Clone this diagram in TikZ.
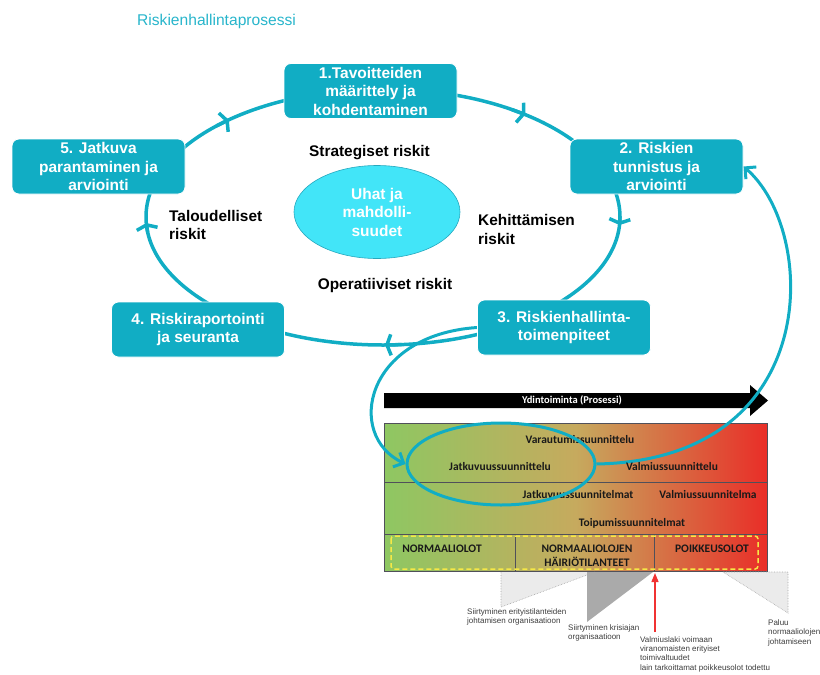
\documentclass[tikz,border=0pt]{standalone}
\usepackage{fontspec}
\setmainfont{Liberation Sans}
\newfontfamily\carl{Carlito}
\usetikzlibrary{shapes.geometric,arrows.meta,calc}
\definecolor{teal1}{RGB}{17,173,196}
\definecolor{titlec}{RGB}{40,181,203}
\definecolor{cfill}{RGB}{66,229,248}
\definecolor{cdraw}{RGB}{38,168,190}
\definecolor{gL}{RGB}{142,199,98}
\definecolor{gM}{RGB}{198,170,94}
\definecolor{gR}{RGB}{233,46,40}
\definecolor{tline}{RGB}{80,80,90}
\definecolor{lgray}{RGB}{235,235,235}
\definecolor{dgray}{RGB}{170,170,170}
\definecolor{annotc}{RGB}{60,60,60}
\definecolor{yell}{RGB}{246,232,70}
\definecolor{redA}{RGB}{240,50,50}
\pgfdeclarelayer{bg}
\pgfdeclarelayer{mid}
\pgfsetlayers{bg,mid,main}
\begin{document}
\begin{tikzpicture}[x=1pt,y=-1pt,
  stepbox/.style={rectangle, rounded corners=7pt, fill=teal1, draw=white, line width=0.8pt,
    minimum width=173pt, minimum height=55pt, inner sep=0pt, align=center, text=white,
    font=\fontsize{15.5}{18.5}\selectfont\bfseries},
  risk/.style={inner sep=0pt, align=left, font=\fontsize{15.4}{18.5}\selectfont\bfseries},
  ring/.style={draw=teal1, line width=3.5pt},
  tick/.style={draw=teal1, line width=3.5pt, -{Straight Barb[length=4pt,width=21pt]}},
  loopc/.style={draw=teal1, line width=3pt, -{Straight Barb[length=8pt,width=16pt]}},
  tbltxt/.style={inner sep=0pt, align=center, font=\carl\bfseries\fontsize{11.5}{13.5}\selectfont, text=black!90},
  annot/.style={inner sep=0pt, anchor=north west, align=left, text=annotc, font=\fontsize{8}{9.6}\selectfont},
]
\useasboundingbox (0,0) rectangle (820,675);

% title
\node[anchor=base west, inner sep=0pt, text=titlec, font=\fontsize{15.6}{18}\selectfont] (title) at (137,25) {Riskienhallintaprosessi};

% table (background)
\begin{pgfonlayer}{bg}
\shade[left color=gL, right color=gR, middle color=gM] (384,423) rectangle (767,571);
\draw[tline, line width=0.8pt] (384,423) rectangle (767,571);
\draw[tline, line width=0.8pt] (384,482) -- (767,482);
\draw[tline, line width=0.8pt] (384,534) -- (767,534);
\draw[tline, line width=0.8pt] (515,534) -- (515,571);
\draw[tline, line width=0.8pt] (654,534) -- (654,571);
\draw[yell, line width=1.5pt, dash pattern=on 5pt off 3pt, rounded corners=3pt] (391,536) rectangle (758,569);
\fill[black] (384,393) -- (750,393) -- (750,385) -- (768,400.5) -- (750,416) -- (750,408) -- (384,408) -- cycle;
\end{pgfonlayer}
\node[inner sep=0pt, text=white, font=\carl\bfseries\fontsize{10.5}{12}\selectfont] (proc) at (572,400.5) {Ydintoiminta (Prosessi)};

\node[tbltxt] (t1) at (580,440) {Varautumissuunnittelu};
\node[tbltxt] (t2) at (500,467) {Jatkuvuussuunnittelu};
\node[tbltxt] (t3) at (672,467) {Valmiussuunnittelu};
\node[tbltxt] (t4) at (578,495) {Jatkuvuussuunnitelmat};
\node[tbltxt] (t5) at (708,495) {Valmiussuunnitelma};
\node[tbltxt] (t6) at (632,523) {Toipumissuunnitelmat};
\node[tbltxt] (t7) at (442,549) {NORMAALIOLOT};
\node[tbltxt] (t8) at (587,556) {NORMAALIOLOJEN\\HÄIRIÖTILANTEET};
\node[tbltxt] (t9) at (712,549) {POIKKEUSOLOT};

% table ellipse
\node[ellipse, draw=teal1, line width=3pt, minimum width=188pt, minimum height=82pt, inner sep=0pt] (TE) at (501,464) {};

% boxes
\node[stepbox] (B1) at (370.5,91) {1.Tavoitteiden\\määrittely ja\\kohdentaminen};
\node[stepbox] (B2) at (656.5,166.5) {2. Riskien\\tunnistus ja\\arviointi};
\node[stepbox] (B3) at (564,327.5) {3. Riskienhallinta-\\toimenpiteet};
\node[stepbox] (B4) at (198,329.5) {4. Riskiraportointi\\ja seuranta};
\node[stepbox] (B5) at (98.5,166.5) {5. Jatkuva\\parantaminen ja\\arviointi};

% center
\node[ellipse, fill=cfill, draw=cdraw, line width=0.6pt, minimum width=166pt, minimum height=93pt,
  inner sep=0pt, align=center, text=white, font=\fontsize{15.5}{18.5}\selectfont\bfseries] (threat) at (377,212) {Uhat ja\\mahdolli-\\suudet};

\node[risk, anchor=center] (rs) at (369.5,153) {Strategiset riskit};
\node[risk, anchor=west] (rt) at (169,225) {Taloudelliset\\riskit};
\node[risk, anchor=west] (rk) at (478,229.5) {Kehittämisen\\riskit};
\node[risk, anchor=center] (ro) at (385,286) {Operatiiviset riskit};

% ring and loops
\begin{pgfonlayer}{mid}
\coordinate (C) at (383,217);
\draw[ring] (C) ellipse [x radius=237pt, y radius=128pt];
\draw[tick] ($(C)+(225.4:237 and 128)$) -- ($(C)+(229.4:237 and 128)$);
\draw[tick] ($(C)+(302.9:237 and 128)$) -- ($(C)+(306.9:237 and 128)$);
\draw[tick] ($(C)+(359.6:237 and 128)$) -- ($(C)+(363.6:237 and 128)$);
\draw[tick] ($(C)+(85.5:237 and 128)$) -- ($(C)+(89.5:237 and 128)$);
\draw[tick] ($(C)+(173.3:237 and 128)$) -- ($(C)+(177.3:237 and 128)$);
\draw[loopc] (B3.west) .. controls (365,335) and (345,435) .. (TE.west);
\draw[loopc] (TE.east) .. controls (825,460) and (818,230) .. (B2.east);
\end{pgfonlayer}

% bottom annotations
\fill[lgray] (501,572) -- (501,607) -- (595,572) -- cycle;
\draw[gray!70, densely dotted, line width=0.6pt] (501,572) -- (501,607) -- (595,572);
\fill[dgray] (587,572) -- (587,622) -- (653,572) -- cycle;
\fill[lgray] (723,572) -- (788,572) -- (788,613) -- cycle;
\draw[gray!70, densely dotted, line width=0.6pt] (723,572) -- (788,572) -- (788,613) -- cycle;
\coordinate (redS) at (655,632);
\coordinate (redE) at (655,573);
\draw[redA, line width=1.4pt, -{Triangle[length=9pt,width=7pt]}] (redS) -- (redE);

\node[annot] (a1) at (467,608) {Siirtyminen erityistilanteiden\\johtamisen organisaatioon};
\node[annot] (a2) at (568,624) {Siirtyminen krisiajan\\organisaatioon};
\node[annot, font=\fontsize{8}{9.4}\selectfont] (a3) at (640,636) {Valmiuslaki voimaan\\viranomaisten erityiset\\toimivaltuudet\\lain tarkoittamat poikkeusolot todettu};
\node[annot] (a4) at (768,619) {Paluu\\normaaliolojen\\johtamiseen};
\end{tikzpicture}
\end{document}
